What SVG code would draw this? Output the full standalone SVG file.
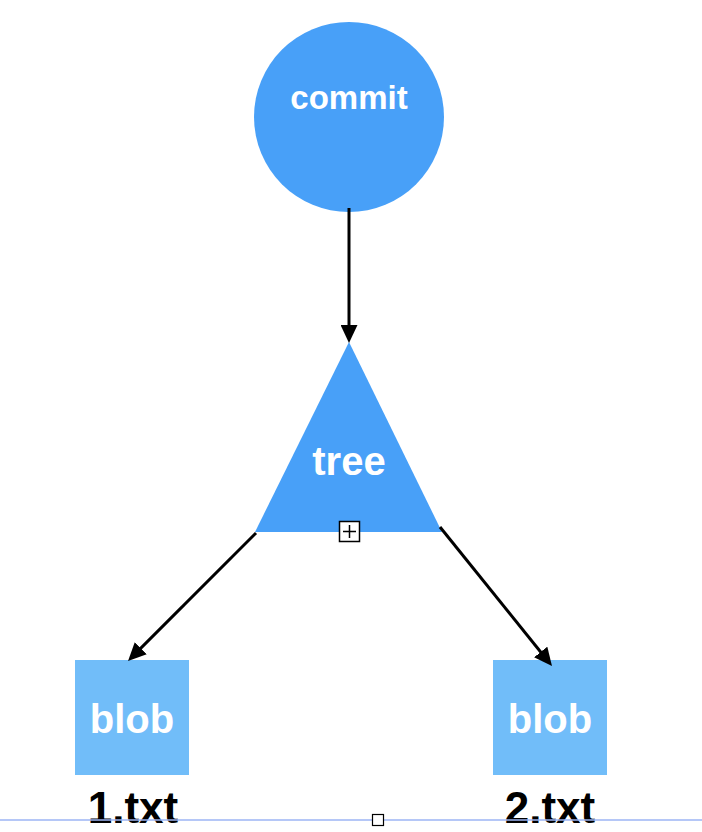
<svg xmlns="http://www.w3.org/2000/svg" width="702" height="832" viewBox="0 0 702 832">
  <style>
    .node-main { fill: #48A0F8; }
    .node-blob { fill: #71BDF9; }
    .label { font-family: "Liberation Sans", Arial, Helvetica, sans-serif; font-weight: bold; fill: #ffffff; text-anchor: middle; }
    .file { font-family: "Liberation Sans", Arial, Helvetica, sans-serif; font-weight: bold; fill: #000000; text-anchor: middle; font-size: 44px; }
    .edge { stroke: #000000; stroke-width: 3; fill: none; marker-end: url(#arrow); }
  </style>
  <defs>
    <marker id="arrow" viewBox="0 0 18 17" refX="8" refY="8.5" markerWidth="18" markerHeight="17" markerUnits="userSpaceOnUse" orient="auto">
      <path d="M0,0 L18,8.5 L0,17 Z" fill="#000000"/>
    </marker>
  </defs>

  <rect width="702" height="832" fill="#ffffff"/>

  <g id="commit">
    <circle class="node-main" cx="349" cy="117" r="95"/>
    <text class="label" x="349" y="109" font-size="33">commit</text>
  </g>

  <g id="tree">
    <polygon class="node-main" points="349,342 255,532 442,532"/>
    <text class="label" x="349" y="475" font-size="40">tree</text>
    <g id="tree-expand">
      <rect x="339.5" y="521.5" width="20" height="20" fill="#ffffff" stroke="#000000" stroke-width="1.5"/>
      <path d="M343,531.5 H356 M349.5,525 V538" stroke="#000000" stroke-width="1.5"/>
    </g>
  </g>

  <g id="blob1">
    <rect class="node-blob" x="75" y="660" width="114" height="115"/>
    <text class="label" x="132" y="733" font-size="40">blob</text>
    <text class="file" x="133" y="823">1.txt</text>
  </g>

  <g id="blob2">
    <rect class="node-blob" x="493" y="660" width="114" height="115"/>
    <text class="label" x="550" y="733" font-size="40">blob</text>
    <text class="file" x="550" y="823">2.txt</text>
  </g>

  <g id="connectors">
    <path class="edge" d="M349,208 L349,333"/>
    <path class="edge" d="M256,533 L135.1,653.9"/>
    <path class="edge" d="M440,527 L545.7,658.2"/>
  </g>

  <!-- baseline guide with handle, drawn above the labels -->
  <line x1="0" y1="820" x2="702" y2="820" stroke="#9DB4F5" stroke-width="1.5"/>
  <rect x="372.5" y="814.5" width="11" height="11" fill="#ffffff" stroke="#000000" stroke-width="1.2"/>
</svg>
